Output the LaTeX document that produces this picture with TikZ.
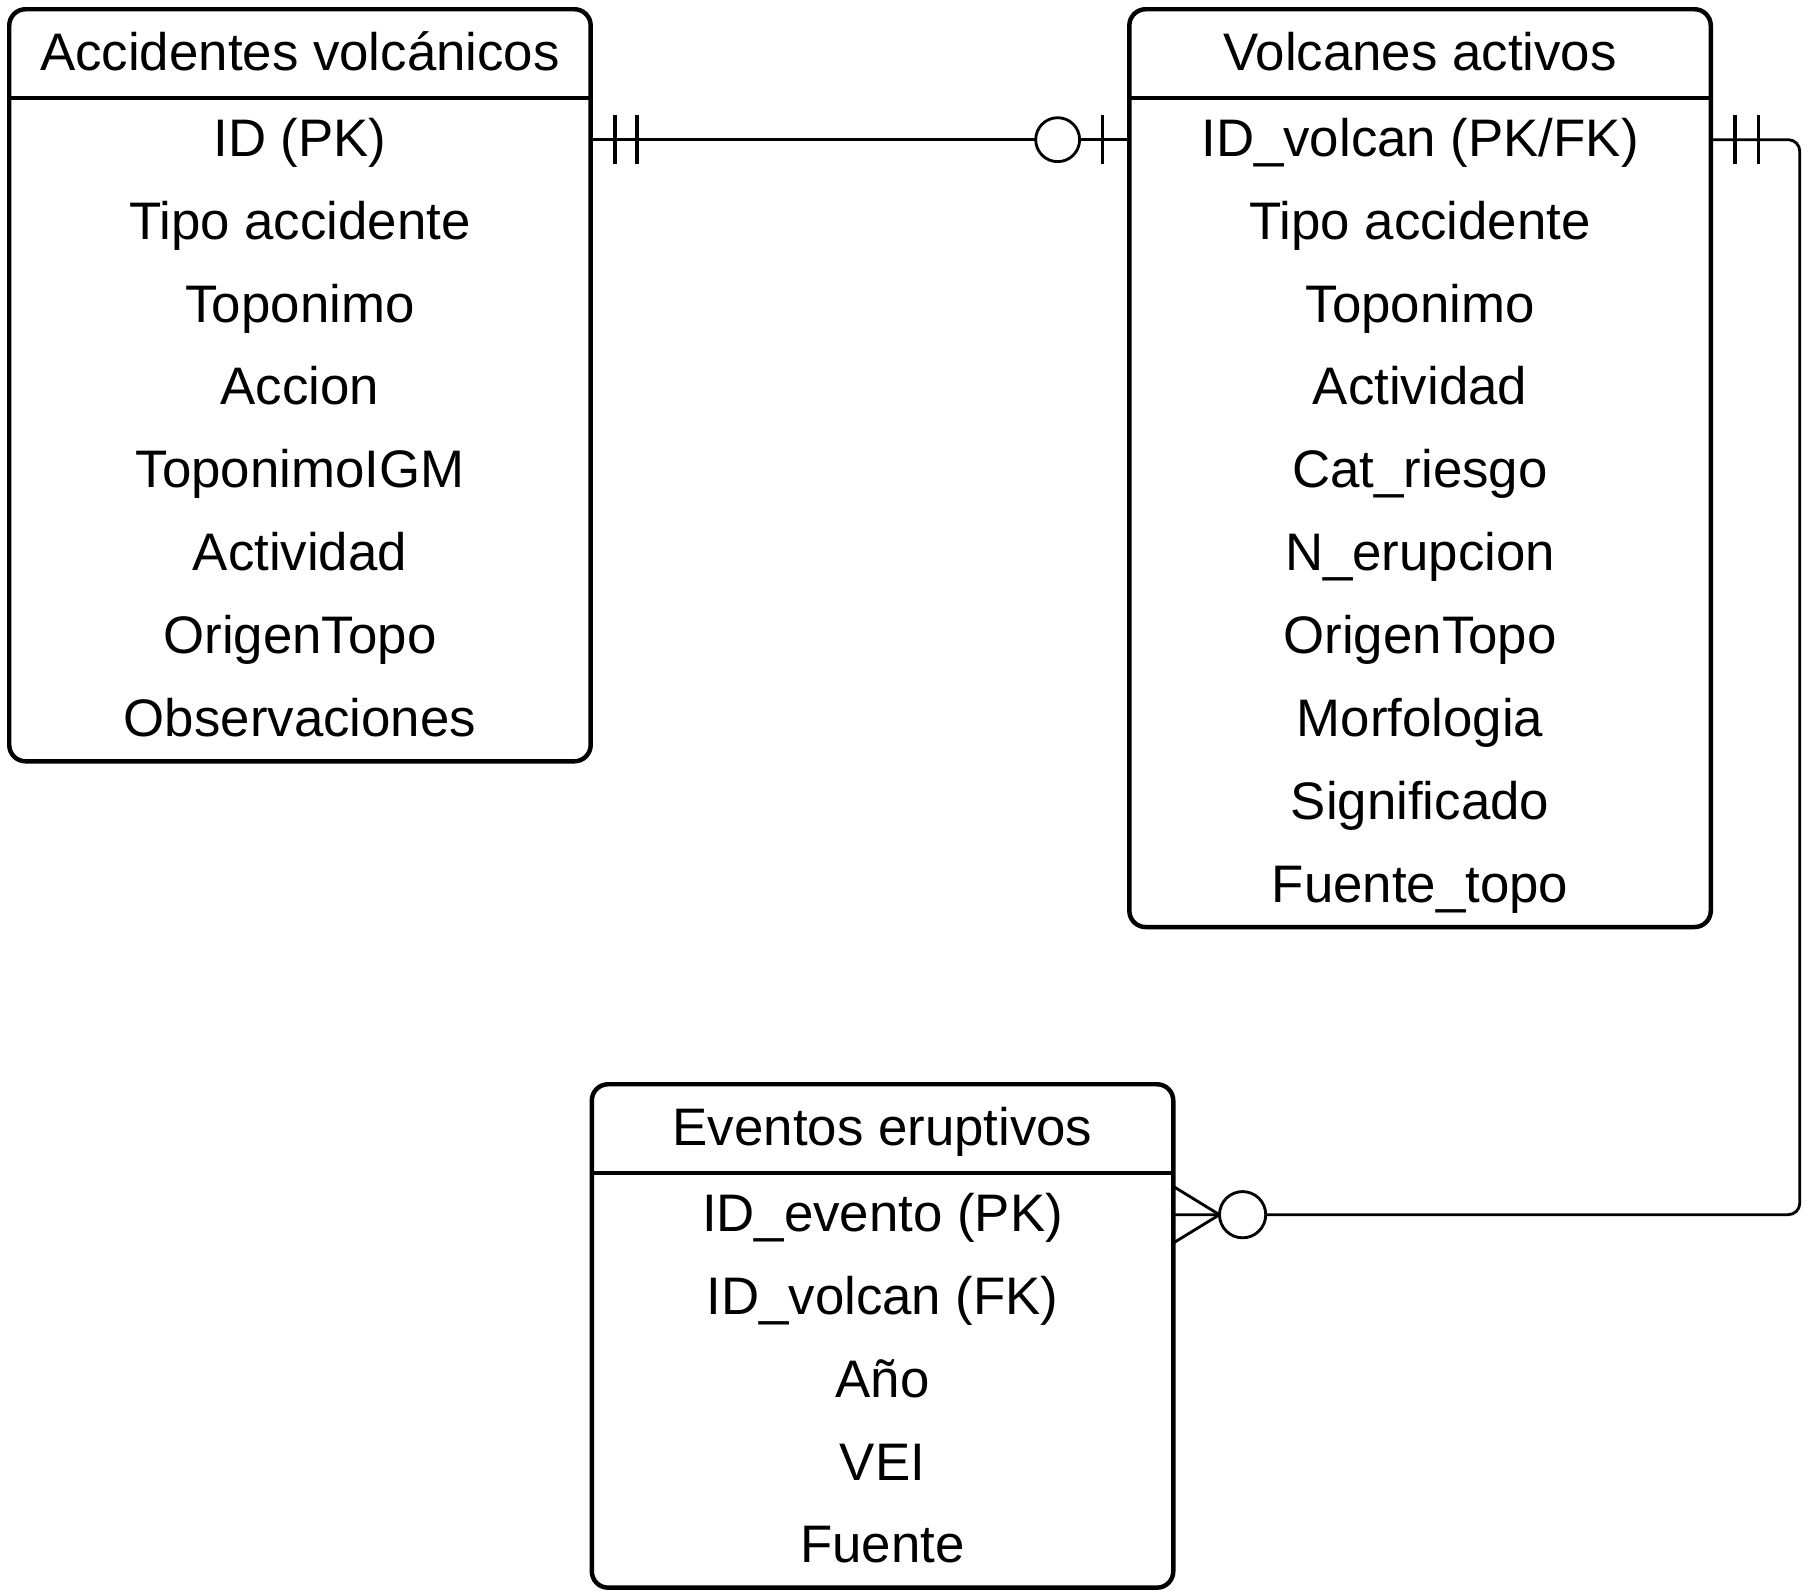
\documentclass[tikz,border=0pt]{standalone}
\usepackage{fontspec}
\setmainfont{Liberation Sans}
\usetikzlibrary{positioning}

\tikzset{
	entity/.style={minimum width=5.03cm, minimum height=0.77cm, inner sep=0pt, outer sep=0pt, text height=10.2pt, text depth=2pt, font=\fontsize{13pt}{15pt}\selectfont},
	attr/.style={entity, minimum height=0.717cm},
	table/.style={draw, line width=1.1pt, rounded corners=4pt},
	rel/.style={line width=0.7pt},
	tick/.style={line width=0.8pt},
}

\begin{document}
\begin{tikzpicture}
	\useasboundingbox (0,0) rectangle (15.65,-13.80);

	\node [entity] (acc) at (2.595,-0.465) {Accidentes volcánicos};
	\node [attr, below=0pt of acc] (acc1) {ID (PK)};
	\node [attr, below=0pt of acc1] (acc2) {Tipo accidente};
	\node [attr, below=0pt of acc2] (acc3) {Toponimo};
	\node [attr, below=0pt of acc3] (acc4) {Accion};
	\node [attr, below=0pt of acc4] (acc5) {ToponimoIGM};
	\node [attr, below=0pt of acc5] (acc6) {Actividad};
	\node [attr, below=0pt of acc6] (acc7) {OrigenTopo};
	\node [attr, below=0pt of acc7] (acc8) {Observaciones};

	\node [entity] (vol) at (12.285,-0.465) {Volcanes activos};
	\node [attr, below=0pt of vol] (vol1) {ID\_volcan (PK/FK)};
	\node [attr, below=0pt of vol1] (vol2) {Tipo accidente};
	\node [attr, below=0pt of vol2] (vol3) {Toponimo};
	\node [attr, below=0pt of vol3] (vol4) {Actividad};
	\node [attr, below=0pt of vol4] (vol5) {Cat\_riesgo};
	\node [attr, below=0pt of vol5] (vol6) {N\_erupcion};
	\node [attr, below=0pt of vol6] (vol7) {OrigenTopo};
	\node [attr, below=0pt of vol7] (vol8) {Morfologia};
	\node [attr, below=0pt of vol8] (vol9) {Significado};
	\node [attr, below=0pt of vol9] (vol10) {Fuente\_topo};

	\node [entity] (ev) at (7.635,-9.765) {Eventos eruptivos};
	\node [attr, below=0pt of ev] (ev1) {ID\_evento (PK)};
	\node [attr, below=0pt of ev1] (ev2) {ID\_volcan (FK)};
	\node [attr, below=0pt of ev2] (ev3) {Año};
	\node [attr, below=0pt of ev3] (ev4) {VEI};
	\node [attr, below=0pt of ev4] (ev5) {Fuente};

	\draw [table] (acc.north west) rectangle (acc8.south east);
	\draw [table] (acc.south west) -- (acc.south east);
	\draw [table] (vol.north west) rectangle (vol10.south east);
	\draw [table] (vol.south west) -- (vol.south east);
	\draw [table] (ev.north west) rectangle (ev5.south east);
	\draw [table] (ev.south west) -- (ev.south east);

	\draw [rel] (acc1.east) -- (vol1.west);
	\draw [tick] ([xshift=0.21cm]acc1.east) +(0,0.21) -- +(0,-0.21);
	\draw [tick] ([xshift=0.40cm]acc1.east) +(0,0.21) -- +(0,-0.21);
	\draw [rel, fill=white] ([xshift=-0.62cm]vol1.west) circle (0.19cm);
	\draw [tick] ([xshift=-0.23cm]vol1.west) +(0,0.21) -- +(0,-0.21);

	\draw [rel, rounded corners=0.1cm] (vol1.east) -- ++(0.77,0) |- (ev1.east);
	\draw [tick] ([xshift=0.21cm]vol1.east) +(0,0.21) -- +(0,-0.21);
	\draw [tick] ([xshift=0.41cm]vol1.east) +(0,0.21) -- +(0,-0.21);
	\draw [rel] ([yshift=0.245cm]ev1.east) -- ([xshift=0.40cm]ev1.east) -- ([yshift=-0.245cm]ev1.east);
	\draw [rel, fill=white] ([xshift=0.60cm]ev1.east) circle (0.20cm);
\end{tikzpicture}
\end{document}
